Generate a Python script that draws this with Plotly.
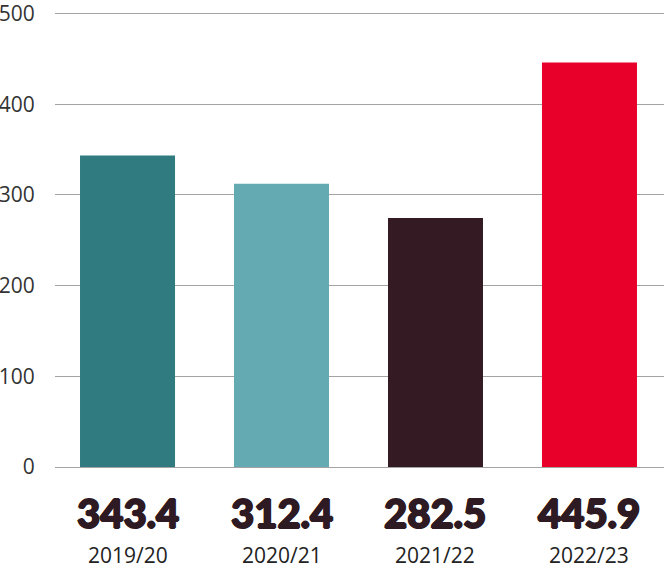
import plotly.graph_objects as go

categories = ["2019/20", "2020/21", "2021/22", "2022/23"]
bar_values = [343.4, 312.4, 274.5, 445.9]
value_labels = ["343.4", "312.4", "282.5", "445.9"]
colors = ["#2f7b80", "#64aab2", "#341a22", "#e8002a"]
y_ticks = [0, 100, 200, 300, 400, 500]

xs = list(range(len(categories)))

fig = go.Figure()
fig.add_trace(go.Bar(x=xs, y=bar_values, marker=dict(color=colors, line=dict(width=0)),
                     width=0.617, hoverinfo="skip"))

sh = "1px 0 0 #2e1a22, -1px 0 0 #2e1a22, 0 1px 0 #2e1a22, 0 -1px 0 #2e1a22"
for x, lab, cat in zip(xs, value_labels, categories):
    fig.add_annotation(x=x, y=0, xref="x", yref="y", text=lab, showarrow=False,
                       yanchor="middle", yshift=-46,
                       font=dict(family="Lato", size=40, color="#2e1a22", weight=900,
                                 shadow=sh))
    fig.add_annotation(x=x, y=0, xref="x", yref="y", text=cat, showarrow=False,
                       yanchor="middle", yshift=-88,
                       font=dict(family="Open Sans", size=21, color="#222222"))

fig.update_layout(
    width=664, height=569, autosize=False,
    margin=dict(l=55, r=0, t=9, b=102, pad=0),
    paper_bgcolor="white", plot_bgcolor="white",
    showlegend=False,
    xaxis=dict(range=[-0.471, 3.484], showgrid=False, showticklabels=False,
               zeroline=False, showline=False, ticks="", automargin=False,
               fixedrange=True),
    yaxis=dict(range=[0, 505], tickvals=y_ticks, showgrid=True, gridcolor="#a3a3a3",
               gridwidth=1, zeroline=True, zerolinecolor="#a3a3a3", zerolinewidth=1,
               showline=False, ticks="outside", ticklen=15, tickcolor="rgba(0,0,0,0)",
               automargin=False, fixedrange=True, ticklabeloverflow="allow",
               tickfont=dict(family="Open Sans", size=21, color="#333333")),
)

fig.write_html("out.html", config={"displayModeBar": False},
               post_script="document.body.style.margin='0';document.body.style.overflow='hidden';")
